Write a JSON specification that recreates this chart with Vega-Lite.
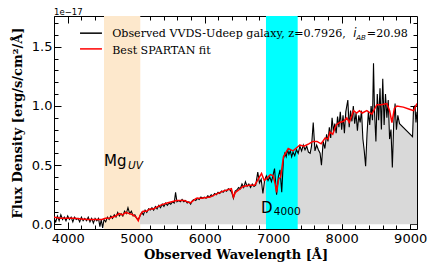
{
"$schema":"https://vega.github.io/schema/vega-lite/v6.json",
"width":363,"height":213,
"autosize":"none",
"padding":{"left":54,"top":16,"right":19,"bottom":47},
"background":"white",
"config":{"view":{"stroke":null}},
"datasets":{
"obs":[{"w":3800,"f":0.05},{"w":3825,"f":0.02},{"w":3850,"f":0.07},{"w":3875,"f":0.03},{"w":3900,"f":0.08},{"w":3925,"f":0.04},{"w":3950,"f":0.06},{"w":3975,"f":0.03},{"w":4000,"f":0.07},{"w":4025,"f":0.04},{"w":4050,"f":0.06},{"w":4075,"f":0.02},{"w":4100,"f":0.06},{"w":4125,"f":0.04},{"w":4150,"f":0.05},{"w":4175,"f":0.02},{"w":4200,"f":0.06},{"w":4225,"f":0.03},{"w":4250,"f":0.05},{"w":4275,"f":0.03},{"w":4300,"f":0.06},{"w":4325,"f":0.02},{"w":4350,"f":0.05},{"w":4375,"f":0.01},{"w":4400,"f":0.05},{"w":4425,"f":0.03},{"w":4450,"f":0.05},{"w":4470,"f":-0.02},{"w":4490,"f":0.04},{"w":4510,"f":-0.03},{"w":4530,"f":0.04},{"w":4555,"f":0.02},{"w":4580,"f":0.06},{"w":4605,"f":0.04},{"w":4630,"f":0.07},{"w":4655,"f":0.05},{"w":4680,"f":0.08},{"w":4705,"f":0.06},{"w":4730,"f":0.10},{"w":4755,"f":0.07},{"w":4780,"f":0.09},{"w":4805,"f":0.07},{"w":4830,"f":0.11},{"w":4855,"f":0.09},{"w":4880,"f":0.14},{"w":4905,"f":0.09},{"w":4930,"f":0.11},{"w":4955,"f":0.07},{"w":4980,"f":0.08},{"w":5005,"f":0.05},{"w":5030,"f":0.04},{"w":5055,"f":0.07},{"w":5080,"f":0.10},{"w":5105,"f":0.08},{"w":5130,"f":0.12},{"w":5155,"f":0.10},{"w":5180,"f":0.13},{"w":5205,"f":0.12},{"w":5230,"f":0.14},{"w":5255,"f":0.12},{"w":5280,"f":0.15},{"w":5305,"f":0.13},{"w":5330,"f":0.16},{"w":5355,"f":0.14},{"w":5380,"f":0.17},{"w":5405,"f":0.15},{"w":5430,"f":0.18},{"w":5455,"f":0.16},{"w":5480,"f":0.18},{"w":5505,"f":0.17},{"w":5530,"f":0.19},{"w":5555,"f":0.18},{"w":5575,"f":0.27},{"w":5595,"f":0.19},{"w":5620,"f":0.20},{"w":5645,"f":0.19},{"w":5670,"f":0.21},{"w":5695,"f":0.19},{"w":5720,"f":0.20},{"w":5745,"f":0.18},{"w":5770,"f":0.19},{"w":5795,"f":0.17},{"w":5820,"f":0.20},{"w":5845,"f":0.21},{"w":5870,"f":0.20},{"w":5895,"f":0.22},{"w":5920,"f":0.21},{"w":5945,"f":0.23},{"w":5970,"f":0.22},{"w":5995,"f":0.23},{"w":6020,"f":0.22},{"w":6045,"f":0.24},{"w":6070,"f":0.23},{"w":6095,"f":0.25},{"w":6120,"f":0.24},{"w":6145,"f":0.26},{"w":6170,"f":0.25},{"w":6195,"f":0.27},{"w":6220,"f":0.26},{"w":6245,"f":0.28},{"w":6270,"f":0.27},{"w":6295,"f":0.29},{"w":6320,"f":0.28},{"w":6345,"f":0.30},{"w":6370,"f":0.29},{"w":6395,"f":0.27},{"w":6420,"f":0.22},{"w":6445,"f":0.28},{"w":6470,"f":0.29},{"w":6495,"f":0.31},{"w":6520,"f":0.30},{"w":6545,"f":0.34},{"w":6570,"f":0.31},{"w":6595,"f":0.36},{"w":6620,"f":0.32},{"w":6645,"f":0.34},{"w":6670,"f":0.31},{"w":6695,"f":0.34},{"w":6720,"f":0.32},{"w":6745,"f":0.33},{"w":6775,"f":0.44},{"w":6800,"f":0.35},{"w":6825,"f":0.38},{"w":6850,"f":0.26},{"w":6875,"f":0.37},{"w":6900,"f":0.41},{"w":6925,"f":0.37},{"w":6950,"f":0.40},{"w":6975,"f":0.36},{"w":7000,"f":0.42},{"w":7020,"f":0.47},{"w":7050,"f":0.25},{"w":7075,"f":0.40},{"w":7100,"f":0.46},{"w":7125,"f":0.27},{"w":7150,"f":0.55},{"w":7170,"f":0.60},{"w":7190,"f":0.57},{"w":7210,"f":0.63},{"w":7230,"f":0.59},{"w":7250,"f":0.62},{"w":7270,"f":0.57},{"w":7290,"f":0.61},{"w":7315,"f":0.58},{"w":7340,"f":0.63},{"w":7365,"f":0.60},{"w":7390,"f":0.66},{"w":7415,"f":0.62},{"w":7440,"f":0.67},{"w":7465,"f":0.63},{"w":7490,"f":0.66},{"w":7515,"f":0.61},{"w":7540,"f":0.60},{"w":7560,"f":0.66},{"w":7585,"f":0.86},{"w":7610,"f":0.62},{"w":7635,"f":0.67},{"w":7660,"f":0.63},{"w":7685,"f":0.60},{"w":7705,"f":0.50},{"w":7730,"f":0.70},{"w":7755,"f":0.64},{"w":7780,"f":0.76},{"w":7800,"f":0.70},{"w":7820,"f":0.82},{"w":7840,"f":0.73},{"w":7860,"f":0.90},{"w":7880,"f":0.79},{"w":7900,"f":0.85},{"w":7920,"f":0.77},{"w":7940,"f":0.91},{"w":7960,"f":0.82},{"w":7980,"f":0.95},{"w":8000,"f":0.80},{"w":8020,"f":0.92},{"w":8040,"f":0.77},{"w":8060,"f":0.95},{"w":8090,"f":1.05},{"w":8110,"f":0.82},{"w":8130,"f":0.96},{"w":8150,"f":0.87},{"w":8170,"f":1.0},{"w":8190,"f":0.85},{"w":8210,"f":0.94},{"w":8230,"f":0.79},{"w":8250,"f":0.92},{"w":8270,"f":0.86},{"w":8290,"f":0.96},{"w":8310,"f":0.72},{"w":8330,"f":0.62},{"w":8350,"f":0.49},{"w":8370,"f":0.76},{"w":8390,"f":0.95},{"w":8410,"f":0.84},{"w":8430,"f":1.0},{"w":8450,"f":0.88},{"w":8465,"f":1.36},{"w":8480,"f":0.95},{"w":8500,"f":0.70},{"w":8520,"f":1.10},{"w":8540,"f":0.88},{"w":8560,"f":1.15},{"w":8580,"f":0.80},{"w":8600,"f":1.23},{"w":8620,"f":0.84},{"w":8640,"f":1.10},{"w":8660,"f":0.90},{"w":8680,"f":1.05},{"w":8700,"f":0.72},{"w":8720,"f":0.80},{"w":8740,"f":0.48},{"w":8760,"f":0.85},{"w":8780,"f":1.02},{"w":8800,"f":0.80},{"w":8820,"f":0.92},{"w":8845,"f":0.85},{"w":9035,"f":0.74},{"w":9050,"f":0.99},{"w":9070,"f":1.0},{"w":9085,"f":0.86},{"w":9100,"f":0.95}],
"fit":[{"w":3800,"f":0.06},{"w":3900,"f":0.05},{"w":4000,"f":0.05},{"w":4100,"f":0.05},{"w":4200,"f":0.045},{"w":4300,"f":0.04},{"w":4400,"f":0.04},{"w":4500,"f":0.04},{"w":4550,"f":0.05},{"w":4600,"f":0.05},{"w":4650,"f":0.06},{"w":4700,"f":0.07},{"w":4750,"f":0.09},{"w":4800,"f":0.08},{"w":4850,"f":0.10},{"w":4900,"f":0.09},{"w":4950,"f":0.08},{"w":5000,"f":0.06},{"w":5030,"f":0.03},{"w":5060,"f":0.08},{"w":5100,"f":0.11},{"w":5150,"f":0.11},{"w":5200,"f":0.13},{"w":5250,"f":0.13},{"w":5350,"f":0.16},{"w":5450,"f":0.18},{"w":5590,"f":0.20},{"w":5700,"f":0.20},{"w":5790,"f":0.18},{"w":5880,"f":0.22},{"w":5950,"f":0.22},{"w":6080,"f":0.23},{"w":6150,"f":0.25},{"w":6270,"f":0.28},{"w":6390,"f":0.30},{"w":6420,"f":0.23},{"w":6450,"f":0.27},{"w":6520,"f":0.30},{"w":6560,"f":0.32},{"w":6650,"f":0.33},{"w":6730,"f":0.33},{"w":6780,"f":0.38},{"w":6830,"f":0.43},{"w":6870,"f":0.37},{"w":6910,"f":0.39},{"w":6960,"f":0.42},{"w":7000,"f":0.41},{"w":7030,"f":0.34},{"w":7050,"f":0.27},{"w":7080,"f":0.38},{"w":7110,"f":0.40},{"w":7150,"f":0.57},{"w":7220,"f":0.64},{"w":7290,"f":0.62},{"w":7390,"f":0.67},{"w":7450,"f":0.66},{"w":7520,"f":0.68},{"w":7580,"f":0.70},{"w":7640,"f":0.70},{"w":7700,"f":0.68},{"w":7760,"f":0.73},{"w":7800,"f":0.72},{"w":7830,"f":0.78},{"w":7870,"f":0.76},{"w":7920,"f":0.84},{"w":7970,"f":0.86},{"w":8030,"f":0.87},{"w":8075,"f":0.90},{"w":8110,"f":0.86},{"w":8150,"f":0.92},{"w":8173,"f":0.96},{"w":8220,"f":0.94},{"w":8260,"f":0.96},{"w":8300,"f":0.94},{"w":8368,"f":0.96},{"w":8441,"f":0.93},{"w":8514,"f":1.01},{"w":8580,"f":1.01},{"w":8660,"f":1.02},{"w":8700,"f":0.96},{"w":8734,"f":0.86},{"w":8770,"f":0.98},{"w":8807,"f":1.00},{"w":8900,"f":0.99},{"w":9000,"f":0.97},{"w":9051,"f":0.96},{"w":9100,"f":1.02}]
},
"resolve":{"axis":{"x":"independent","y":"independent"}},
"layer":[
{"data":{"values":[{"a":4530,"b":5060}]},"mark":{"type":"rect","fill":"#fde8cc"},
 "encoding":{"x":{"field":"a","type":"quantitative","scale":{"domain":[3800,9100],"nice":false,"zero":false},"axis":null},"x2":{"field":"b"}}},
{"data":{"name":"obs"},"transform":[{"filter":"datum.w >= 5050"}],
 "mark":{"type":"area","fill":"#d9d9d9","clip":true},
 "encoding":{
  "x":{"field":"w","type":"quantitative","scale":{"domain":[3800,9100],"nice":false,"zero":false},
   "axis":{"orient":"bottom","values":[3800,4000,4200,4400,4600,4800,5000,5200,5400,5600,5800,6000,6200,6400,6600,6800,7000,7200,7400,7600,7800,8000,8200,8400,8600,8800,9000],
    "format":"d","labelExpr":"datum.value % 1000 === 0 ? datum.label : ''",
    "tickSize":{"condition":{"test":"datum.value % 1000 === 0","value":-7},"value":-4},
    "tickColor":"black","domainColor":"black","grid":false,"labelFont":"DejaVu Sans","labelFontSize":13,"labelColor":"black","labelPadding":10,"labelFlush":false,
    "title":"Observed Wavelength [Å]","titleFont":"DejaVu Serif","titleFontWeight":"bold","titleFontSize":13,"titleColor":"black","titlePadding":3}},
  "y":{"field":"f","type":"quantitative","scale":{"domain":[-0.04,1.76],"nice":false,"zero":false},
   "axis":{"orient":"left","values":[0,0.1,0.2,0.3,0.4,0.5,0.6,0.7,0.8,0.9,1,1.1,1.2,1.3,1.4,1.5,1.6,1.7],
    "format":".1f","labelExpr":"datum.value % 0.5 === 0 ? datum.label : ''",
    "tickSize":{"condition":{"test":"datum.value % 0.5 === 0","value":-7},"value":-4},
    "tickColor":"black","domainColor":"black","grid":false,"labelFont":"DejaVu Sans","labelFontSize":13,"labelColor":"black","labelPadding":9,
    "title":"Flux Density [erg/s/cm²/Å]","titleFont":"DejaVu Serif","titleFontWeight":"bold","titleFontSize":13,"titleColor":"black","titlePadding":7}},
  "y2":{"datum":0}}},
{"data":{"values":[{"a":6895,"b":7358}]},"mark":{"type":"rect","fill":"#00ffff"},
 "encoding":{"x":{"field":"a","type":"quantitative","axis":null},"x2":{"field":"b"}}},
{"mark":{"type":"rule","color":"black","strokeDash":[3,2],"strokeWidth":1},
 "encoding":{"y":{"datum":0,"type":"quantitative","axis":null}}},
{"data":{"name":"obs"},"mark":{"type":"line","color":"black","strokeWidth":1.1,"clip":true},
 "encoding":{
  "x":{"field":"w","type":"quantitative",
   "axis":{"orient":"top","values":[3800,4000,4200,4400,4600,4800,5000,5200,5400,5600,5800,6000,6200,6400,6600,6800,7000,7200,7400,7600,7800,8000,8200,8400,8600,8800,9000],
    "labels":false,"title":null,"grid":false,"tickColor":"black","domainColor":"black",
    "tickSize":{"condition":{"test":"datum.value % 1000 === 0","value":-7},"value":-4}}},
  "y":{"field":"f","type":"quantitative",
   "axis":{"orient":"right","values":[0,0.1,0.2,0.3,0.4,0.5,0.6,0.7,0.8,0.9,1,1.1,1.2,1.3,1.4,1.5,1.6,1.7],
    "labels":false,"title":null,"grid":false,"tickColor":"black","domainColor":"black",
    "tickSize":{"condition":{"test":"datum.value % 0.5 === 0","value":-7},"value":-4}}}}},
{"data":{"name":"fit"},"mark":{"type":"line","color":"#ff0000","strokeWidth":1.5,"clip":true},
 "encoding":{"x":{"field":"w","type":"quantitative","axis":null},"y":{"field":"f","type":"quantitative","axis":null}}},
{"data":{"values":[{"a":4180,"b":4500,"y":1.615,"c":"black"},{"a":4180,"b":4500,"y":1.482,"c":"red"}]},
 "mark":{"type":"rule","strokeWidth":1.5},
 "encoding":{"x":{"field":"a","type":"quantitative","axis":null},"x2":{"field":"b"},"y":{"field":"y","type":"quantitative","axis":null},
  "color":{"field":"c","type":"nominal","scale":{"domain":["black","red"],"range":["black","#ff0000"]},"legend":null}}},
{"data":{"values":[{"x":4650,"y":1.579,"t":"Observed VVDS-Udeep galaxy, z=0.7926,"},{"x":8368,"y":1.579,"t":"=20.98"},{"x":4650,"y":1.44,"t":"Best SPARTAN fit"}]},
 "mark":{"type":"text","font":"DejaVu Serif","fontSize":11.1,"align":"left","baseline":"alphabetic","color":"black"},
 "encoding":{"x":{"field":"x","type":"quantitative","axis":null},"y":{"field":"y","type":"quantitative","axis":null},"text":{"field":"t"}}},
{"data":{"values":[{"x":8170,"y":1.579,"t":"i"}]},
 "mark":{"type":"text","font":"DejaVu Sans","fontStyle":"italic","fontSize":11.5,"align":"left","baseline":"alphabetic","color":"black"},
 "encoding":{"x":{"field":"x","type":"quantitative","axis":null},"y":{"field":"y","type":"quantitative","axis":null},"text":{"field":"t"}}},
{"data":{"values":[{"x":8213,"y":1.555,"t":"AB"}]},
 "mark":{"type":"text","font":"DejaVu Sans","fontStyle":"italic","fontSize":7,"align":"left","baseline":"alphabetic","color":"black"},
 "encoding":{"x":{"field":"x","type":"quantitative","axis":null},"y":{"field":"y","type":"quantitative","axis":null},"text":{"field":"t"}}},
{"data":{"values":[{"x":4530,"y":0.493,"t":"Mg"},{"x":6822,"y":0.098,"t":"D"}]},
 "mark":{"type":"text","font":"DejaVu Sans","fontSize":15,"align":"left","baseline":"alphabetic","color":"black"},
 "encoding":{"x":{"field":"x","type":"quantitative","axis":null},"y":{"field":"y","type":"quantitative","axis":null},"text":{"field":"t"}}},
{"data":{"values":[{"x":4880,"y":0.467,"t":"UV"}]},
 "mark":{"type":"text","font":"DejaVu Sans","fontStyle":"italic","fontSize":10.5,"align":"left","baseline":"alphabetic","color":"black"},
 "encoding":{"x":{"field":"x","type":"quantitative","axis":null},"y":{"field":"y","type":"quantitative","axis":null},"text":{"field":"t"}}},
{"data":{"values":[{"x":7010,"y":0.079,"t":"4000"}]},
 "mark":{"type":"text","font":"DejaVu Sans","fontSize":10.5,"align":"left","baseline":"alphabetic","color":"black"},
 "encoding":{"x":{"field":"x","type":"quantitative","axis":null},"y":{"field":"y","type":"quantitative","axis":null},"text":{"field":"t"}}},
{"data":{"values":[{"x":3800,"y":1.769,"t":"1e−17"}]},
 "mark":{"type":"text","font":"DejaVu Sans","fontSize":8.5,"align":"left","baseline":"alphabetic","color":"black"},
 "encoding":{"x":{"field":"x","type":"quantitative","axis":null},"y":{"field":"y","type":"quantitative","axis":null},"text":{"field":"t"}}}
]
}
